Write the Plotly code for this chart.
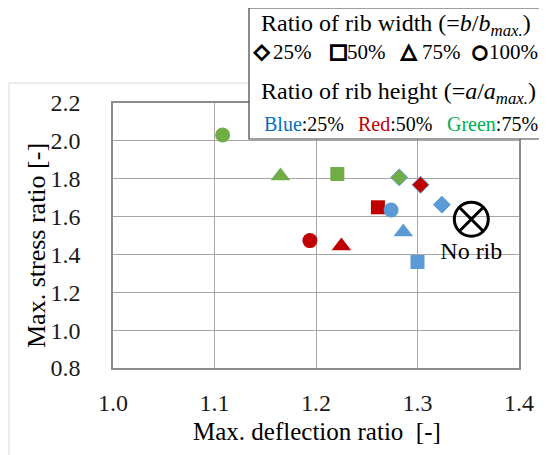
import plotly.graph_objects as go

# ---- data ----
height_names = ["Blue", "Red", "Green"]
height_pcts = ["25%", "50%", "75%"]
height_colors = ["#5B9BD5", "#C00000", "#70AD47"]
height_text_colors = ["#0070C0", "#C00000", "#00B050"]

width_25_x = [1.324, 1.303, 1.282]
width_25_y = [1.663, 1.768, 1.807]
width_50_x = [1.300, 1.261, 1.221]
width_50_y = [1.360, 1.649, 1.825]
width_75_x = [1.286, 1.225, 1.165]
width_75_y = [1.519, 1.445, 1.815]
width_100_x = [1.274, 1.194, 1.108]
width_100_y = [1.635, 1.473, 2.031]
no_rib_x = [1.353]
no_rib_y = [1.586]

x_ticks = [1.0, 1.1, 1.2, 1.3, 1.4]
y_ticks = [0.8, 1.0, 1.2, 1.4, 1.6, 1.8, 2.0, 2.2]

FONT = "Liberation Serif"
SYMF = "DejaVu Sans"

fig = go.Figure()

series = [
    ("25%", width_25_x, width_25_y, "diamond", 13, True),
    ("50%", width_50_x, width_50_y, "square", 14, False),
    ("75%", width_75_x, width_75_y, "triangle-up", 17, False),
    ("100%", width_100_x, width_100_y, "circle", 15, False),
]
for name, xs, ys, sym, size, outline in series:
    fig.add_trace(go.Scatter(
        x=xs, y=ys, mode="markers", name=name,
        marker=dict(symbol=sym, size=size, color=height_colors,
                    line=dict(width=1 if outline else 0, color="#5B9BD5")),
        showlegend=False, cliponaxis=False,
    ))

fig.add_trace(go.Scatter(
    x=no_rib_x, y=no_rib_y, mode="markers+text", name="No rib",
    marker=dict(symbol="circle-x-open", size=34, color="black",
                line=dict(width=3, color="black")),
    text=["No rib"], textposition="bottom center",
    textfont=dict(family=FONT, size=24, color="black"),
    showlegend=False, cliponaxis=False,
))

axis_common = dict(
    showgrid=True, gridcolor="#A6A6A6", gridwidth=1,
    showline=True, linecolor="#8C8C8C", linewidth=1.5, mirror=True,
    zeroline=False, ticks="",
    tickfont=dict(family=FONT, size=24, color="#1a1a1a"),
)
fig.update_xaxes(range=[1.0, 1.4], tickvals=x_ticks, tickformat=".1f",
                 ticklabelstandoff=12, **axis_common)
fig.update_yaxes(range=[0.8, 2.2], tickvals=y_ticks, tickformat=".1f",
                 ticklabelstandoff=26, **axis_common)

# page-pixel -> paper coordinates (plot area spans 113..519 x 103..368 on the page)
def px_x(p):
    return (p - 113) / 406.0

def px_y(p):
    return (368 - p) / 265.0

# chart area border (light) and legend box
fig.add_shape(type="rect", xref="paper", yref="paper",
              x0=px_x(9), x1=1.6, y0=-1.0, y1=px_y(83),
              line=dict(color="#D9D9D9", width=1), layer="below")
fig.add_shape(type="rect", xref="paper", yref="paper",
              x0=px_x(249), x1=1.6, y0=px_y(139), y1=px_y(8),
              fillcolor="white", line=dict(color="#404040", width=1.2),
              layer="above")

ann = []
ann.append(dict(text="Ratio of rib width (=<i>b</i>/<i>b</i><sub><i>max.</i></sub>)",
                x=px_x(259), y=px_y(25), xanchor="left", yanchor="middle",
                font=dict(family=FONT, size=24, color="black")))
sym_items = [("◇", "25%", 252, 271, 20), ("□", "50%", 327, 345, 20),
             ("△", "75%", 399, 420, 20), ("○", "100%", 470, 487, 18)]
for s, lab, xs_, xl, fs in sym_items:
    ann.append(dict(text='<span style="stroke:black;stroke-width:1.6px">%s</span>' % s,
                    x=px_x(xs_), y=px_y(51),
                    xanchor="left", yanchor="middle",
                    font=dict(family=SYMF, size=fs, color="black")))
    ann.append(dict(text=lab, x=px_x(xl), y=px_y(52),
                    xanchor="left", yanchor="middle",
                    font=dict(family=FONT, size=21, color="black")))
ann.append(dict(text="Ratio of rib height (=<i>a</i>/<i>a</i><sub><i>max.</i></sub>)",
                x=px_x(259), y=px_y(93), xanchor="left", yanchor="middle",
                font=dict(family=FONT, size=24, color="black")))
for nm, pct, col, xp in zip(height_names, height_pcts, height_text_colors, [262, 356, 445]):
    ann.append(dict(text='<span style="color:%s">%s</span>:%s' % (col, nm, pct),
                    x=px_x(xp), y=px_y(124), xanchor="left", yanchor="middle",
                    font=dict(family=FONT, size=20, color="black")))

# axis titles
ann.append(dict(text="Max. deflection ratio  [-]", x=px_x(317), y=px_y(431),
                xanchor="center", yanchor="middle",
                font=dict(family=FONT, size=25, color="black")))
ann.append(dict(text="Max. stress ratio [-]", x=px_x(36), y=px_y(246),
                xanchor="center", yanchor="middle", textangle=-90,
                font=dict(family=FONT, size=26, color="black")))
for a in ann:
    a.update(xref="paper", yref="paper", showarrow=False)
fig.update_layout(annotations=ann)

# the page adds an 8px body margin, so the figure is 8px smaller than the window
fig.update_layout(
    width=539, height=447,
    margin=dict(l=105, r=28, t=95, b=87),
    paper_bgcolor="white", plot_bgcolor="white",
    font=dict(family=FONT),
)

fig.write_html("out.html")
